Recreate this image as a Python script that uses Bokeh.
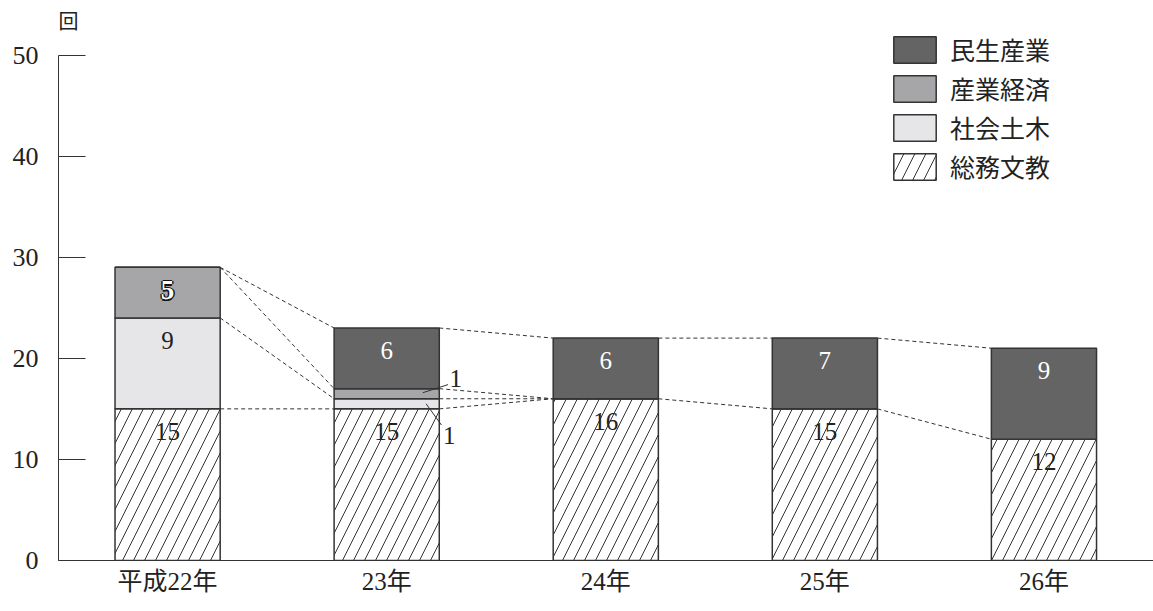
from bokeh.plotting import figure
from bokeh.models import Range1d, FixedTicker, Legend, LegendItem, Label, ColumnDataSource
from bokeh.core.properties import value
from bokeh.embed import file_html
from bokeh.resources import INLINE

# ---- data ----
years = ["平成22年", "23年", "24年", "25年", "26年"]
somu_bunkyo = [15, 15, 16, 15, 12]     # 総務文教 (hatched, bottom)
shakai_doboku = [9, 1, 0, 0, 0]        # 社会土木
sangyo_keizai = [5, 1, 0, 0, 0]        # 産業経済
minsei_sangyo = [0, 6, 6, 7, 9]        # 民生産業 (top)
series_names = ["総務文教", "社会土木", "産業経済", "民生産業"]
y_ticks = [0, 10, 20, 30, 40, 50]
unit_label = "回"

SERIF = "Liberation Serif"
MIXED = "Liberation Serif, Noto Sans CJK JP"
CJK = "Noto Sans CJK JP"
INK = "#222222"
EDGE = "#333333"

xs = list(range(len(years)))
stacks = [somu_bunkyo, shakai_doboku, sangyo_keizai, minsei_sangyo]
fills = ["#ffffff", "#e6e6e8", "#a6a6a8", "#646464"]
BAR_W = 0.48
Y_MAX = y_ticks[-1]

p = figure(width=1153, height=611, output_backend="svg", toolbar_location=None,
           x_range=Range1d(-0.498, 4.5), y_range=Range1d(0, 55),
           min_border_left=58, min_border_right=0, min_border_top=4, min_border_bottom=51)
p.outline_line_color = None
p.grid.visible = False
p.background_fill_color = "white"

# stacked bars
renderers = []
bottoms = [0] * len(xs)
cum = []
for vals, col, name in zip(stacks, fills, series_names):
    tops = [b + v for b, v in zip(bottoms, vals)]
    src = ColumnDataSource(dict(x=xs, bottom=bottoms, top=tops))
    kw = {}
    if name == "総務文教":
        kw = dict(hatch_pattern="/", hatch_scale=22, hatch_weight=1, hatch_color=EDGE)
    r = p.vbar(x="x", bottom="bottom", top="top", width=BAR_W, source=src,
               fill_color=col, line_color=EDGE, line_width=1.5, **kw)
    renderers.append((name, r))
    cum.append(tops)
    bottoms = tops

# dashed connectors between cumulative boundaries
seen = set()
x0s, y0s, x1s, y1s = [], [], [], []
for i in range(len(xs) - 1):
    for k in range(len(stacks)):
        a, b = cum[k][i], cum[k][i + 1]
        if (i, a, b) in seen:
            continue
        seen.add((i, a, b))
        x0s.append(xs[i] + BAR_W / 2); y0s.append(a)
        x1s.append(xs[i + 1] - BAR_W / 2); y1s.append(b)
p.segment(x0=x0s, y0=y0s, x1=x1s, y1=y1s, line_color=EDGE, line_width=1, line_dash="4 3")

# value labels (near the top of each segment)
DROP = 2.25
plain = dict(x=[], y=[], t=[], c=[])
outlined = dict(x=[], y=[], t=[])
for k, vals in enumerate(stacks):
    for i, v in enumerate(vals):
        if v < 2:
            continue
        yy = cum[k][i] - DROP
        if k == 2:  # 産業経済 label: white with a dark outline
            outlined["x"].append(xs[i]); outlined["y"].append(yy); outlined["t"].append(str(v))
        else:
            plain["x"].append(xs[i]); plain["y"].append(yy); plain["t"].append(str(v))
            plain["c"].append("white" if k == 3 else INK)
p.text(x="x", y="y", text="t", text_color="c", source=ColumnDataSource(plain),
       text_font=value(SERIF), text_font_size="25px", text_align="center", text_baseline="middle")
osrc = ColumnDataSource(outlined)
for dx, dy in [(-1.5, 0), (1.5, 0), (0, -1.5), (0, 1.5)]:
    p.text(x="x", y="y", text="t", source=osrc, text_color="#111111", x_offset=dx, y_offset=dy,
           text_font=value(SERIF), text_font_size="27px", text_font_style="bold",
           text_align="center", text_baseline="middle")
p.text(x="x", y="y", text="t", source=osrc, text_color="white",
       text_font=value(SERIF), text_font_size="27px", text_font_style="bold",
       text_align="center", text_baseline="middle")

# small labels for 23年 with leader lines
i1 = 1
small_text_x = [xs[i1] + 0.315, xs[i1] + 0.285]
small_text_y = [cum[2][i1] + 1.0, cum[0][i1] - 2.6]
small_text = [str(sangyo_keizai[i1]), str(shakai_doboku[i1])]
p.segment(x0=[xs[i1] + 0.165, xs[i1] + 0.18], y0=[cum[2][i1] - 0.4, cum[1][i1] - 0.5],
          x1=[xs[i1] + 0.28, xs[i1] + 0.25], y1=[cum[2][i1] + 0.4, cum[0][i1] - 1.6],
          line_color=EDGE, line_width=1)
p.text(x=small_text_x, y=small_text_y, text=small_text, text_color=INK,
       text_font=value(SERIF), text_font_size="25px", text_align="center", text_baseline="middle")

# axes
yax = p.yaxis[0]
yax.ticker = FixedTicker(ticks=y_ticks)
yax.bounds = (0, Y_MAX)
yax.major_tick_in = 27
yax.major_tick_out = 0
yax.minor_tick_line_color = None
yax.axis_line_color = EDGE
yax.major_tick_line_color = EDGE
yax.major_label_text_font = SERIF
yax.major_label_text_font_size = "26px"
yax.major_label_text_color = INK
yax.major_label_standoff = 20

xax = p.xaxis[0]
xax.ticker = FixedTicker(ticks=xs)
xax.major_label_overrides = {i: y for i, y in zip(xs, years)}
xax.major_tick_in = 0
xax.major_tick_out = 0
xax.minor_tick_line_color = None
xax.axis_line_color = EDGE
xax.major_label_text_font = MIXED
xax.major_label_text_font_size = "25px"
xax.major_label_text_color = INK
xax.major_label_standoff = 7

p.add_layout(Label(x=-0.498, y=Y_MAX, x_offset=0, y_offset=35, text=unit_label,
                   text_font=CJK, text_font_size="20px", text_color=INK,
                   text_baseline="middle", text_align="left"))

# legend (top series first)
items = [LegendItem(label=n, renderers=[r]) for n, r in reversed(renderers)]
legend = Legend(items=items, location=(830, 376), orientation="vertical",
                glyph_width=53, glyph_height=33, label_standoff=9, spacing=3,
                padding=0, margin=0, border_line_color=None, background_fill_alpha=0,
                label_text_font=CJK, label_text_font_size="25px", label_text_color=INK)
p.add_layout(legend)

open("out.html", "w").write(file_html(p, INLINE))
